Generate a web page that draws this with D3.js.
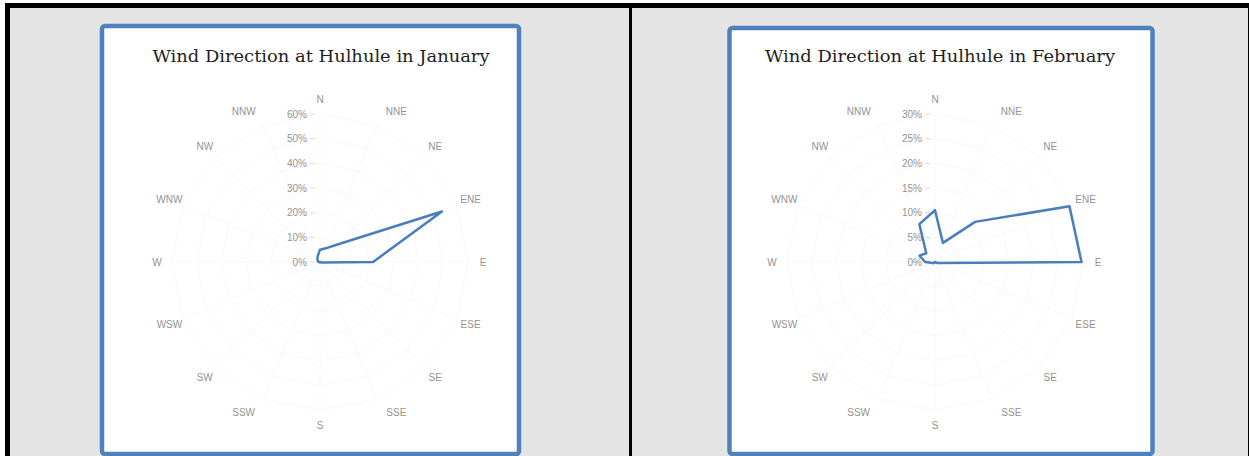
<!DOCTYPE html>
<html>
<head>
<meta charset="utf-8">
<script src="https://cdn.jsdelivr.net/npm/d3@7"></script>
<style>
  body { margin: 0; background: #fff; }
  .dir-label { font-family: "Liberation Sans", "Open Sans", sans-serif; font-size: 10px; fill: #939393; }
  .tick-label { font-family: "Liberation Sans", "Open Sans", sans-serif; font-size: 10px; fill: #939393; }
  .chart-title { font-family: "DejaVu Serif", "Liberation Serif", serif; font-size: 16.5px; fill: #1e1e1e; }
</style>
</head>
<body>
<svg id="PAGE"></svg>
<script>
// wind directions, clockwise from north
var DIRECTIONS = ["N", "NNE", "NE", "ENE", "E", "ESE", "SE", "SSE",
                  "S", "SSW", "SW", "WSW", "W", "WNW", "NW", "NNW"];

var JAN_VALUES = [0.05, 0.06, 0.10, 0.535, 0.215, 0.005, 0.002, 0,
                  0, 0, 0, 0.002, 0.005, 0.01, 0.015, 0.025];
var FEB_VALUES = [0.105, 0.042, 0.115, 0.295, 0.297, 0.005, 0, 0,
                  0, 0, 0.003, 0.005, 0.02, 0.034, 0.025, 0.083];

var JAN_TICKS = [0, 0.1, 0.2, 0.3, 0.4, 0.5, 0.6];
var FEB_TICKS = [0, 0.05, 0.1, 0.15, 0.2, 0.25, 0.3];

var TITLES = ["Wind Direction at Hulhule in January",
              "Wind Direction at Hulhule in February"];

var width = 1249;
var height = 456;

var svg = d3.select("#PAGE")
  .attr("width", width)
  .attr("height", height)
  .attr("viewBox", [0, 0, width, height]);

/******** table frame ********/
var frame = svg.append("g").attr("class", "frame");
frame.append("rect").attr("x", 10).attr("y", 8).attr("width", 619).attr("height", 448).attr("fill", "#e4e4e4");
frame.append("rect").attr("x", 632).attr("y", 8).attr("width", 616).attr("height", 448).attr("fill", "#e4e4e4");
frame.append("rect").attr("x", 5).attr("y", 3).attr("width", 1244).attr("height", 5).attr("fill", "#000");
frame.append("rect").attr("x", 5).attr("y", 3).attr("width", 5).attr("height", 453).attr("fill", "#000");
frame.append("rect").attr("x", 629).attr("y", 3).attr("width", 3).attr("height", 453).attr("fill", "#000");
frame.append("rect").attr("x", 1248).attr("y", 3).attr("width", 1).attr("height", 453).attr("fill", "#000");

var radarChart = {
  draw: function (opt) {
    var g = svg.append("g").attr("class", "radar");

    // picture box with blue border
    g.append("rect")
      .attr("x", opt.box[0])
      .attr("y", opt.box[1])
      .attr("width", opt.box[2])
      .attr("height", opt.box[3])
      .attr("rx", 3)
      .attr("fill", "#fff")
      .attr("stroke", "#4f81bd")
      .attr("stroke-width", 4.5);

    g.append("text")
      .attr("class", "chart-title")
      .attr("x", opt.titleX)
      .attr("y", opt.titleY)
      .attr("text-anchor", "middle")
      .attr("textLength", opt.titleWidth)
      .attr("lengthAdjust", "spacingAndGlyphs")
      .text(opt.title);

    var maxV = opt.ticks[opt.ticks.length - 1];
    var r = d3.scaleLinear().domain([0, maxV]).range([0, opt.radius]);
    var angle = d3.scaleLinear().domain([0, DIRECTIONS.length]).range([0, 2 * Math.PI]);

    var plot = g.append("g").attr("transform", "translate(" + opt.cx + "," + opt.cy + ")");

    // gridlines, barely visible like in the scanned original
    var gridLine = d3.lineRadial()
      .angle(function (d, i) { return angle(i); })
      .curve(d3.curveLinearClosed);

    plot.append("g")
      .selectAll("path")
      .data(opt.ticks.slice(1))
      .join("path")
      .attr("fill", "none")
      .attr("stroke", "#f8f8f8")
      .attr("stroke-width", 1)
      .attr("d", function (t) {
        return gridLine.radius(function () { return r(t); })(DIRECTIONS);
      });

    plot.append("g")
      .selectAll("line")
      .data(DIRECTIONS)
      .join("line")
      .attr("stroke", "#f8f8f8")
      .attr("x1", 0)
      .attr("y1", 0)
      .attr("x2", function (d, i) { return r(maxV) * Math.sin(angle(i)); })
      .attr("y2", function (d, i) { return -r(maxV) * Math.cos(angle(i)); });

    // value axis on the north spoke
    var fmt = d3.format(".0%");
    var axis = plot.append("g");
    axis.selectAll("text")
      .data(opt.ticks)
      .join("text")
      .attr("class", "tick-label")
      .attr("x", -13)
      .attr("y", function (d) { return -r(d); })
      .attr("dy", "0.35em")
      .attr("text-anchor", "end")
      .text(fmt);
    axis.selectAll("line")
      .data(opt.ticks)
      .join("line")
      .attr("stroke", "#dcdcdc")
      .attr("x1", -10)
      .attr("x2", -5)
      .attr("y1", function (d) { return -r(d); })
      .attr("y2", function (d) { return -r(d); });

    // direction labels
    plot.append("g")
      .selectAll("text")
      .data(DIRECTIONS)
      .join("text")
      .attr("class", "dir-label")
      .attr("text-anchor", "middle")
      .attr("dy", "0.35em")
      .each(function (d, i) {
        var s = Math.sin(angle(i));
        var c = Math.cos(angle(i));
        var x = opt.labelRadius * s;
        var y = -opt.labelRadius * c;
        if (Math.abs(c) > 0.9 && Math.abs(s) > 0.1) x += (s > 0 ? 1 : -1) * 14;
        d3.select(this).attr("x", x).attr("y", y);
      })
      .text(function (d) { return d; });

    // data polygon
    var line = d3.lineRadial()
      .angle(function (d, i) { return angle(i); })
      .radius(function (d) { return r(d); })
      .curve(d3.curveLinearClosed);

    plot.append("path")
      .datum(opt.values)
      .attr("fill", "none")
      .attr("stroke", "#4a7ebb")
      .attr("stroke-width", 2.5)
      .attr("stroke-linejoin", "round")
      .attr("d", line);
  }
};

radarChart.draw({
  box: [102, 26, 417, 428],
  title: TITLES[0],
  titleX: 321,
  titleY: 62,
  titleWidth: 337,
  cx: 320,
  cy: 262,
  radius: 148,
  labelRadius: 163,
  ticks: JAN_TICKS,
  values: JAN_VALUES
});

radarChart.draw({
  box: [729.5, 28, 423, 426],
  title: TITLES[1],
  titleX: 940,
  titleY: 62,
  titleWidth: 350,
  cx: 935,
  cy: 262,
  radius: 148,
  labelRadius: 163,
  ticks: FEB_TICKS,
  values: FEB_VALUES
});
</script>
</body>
</html>
